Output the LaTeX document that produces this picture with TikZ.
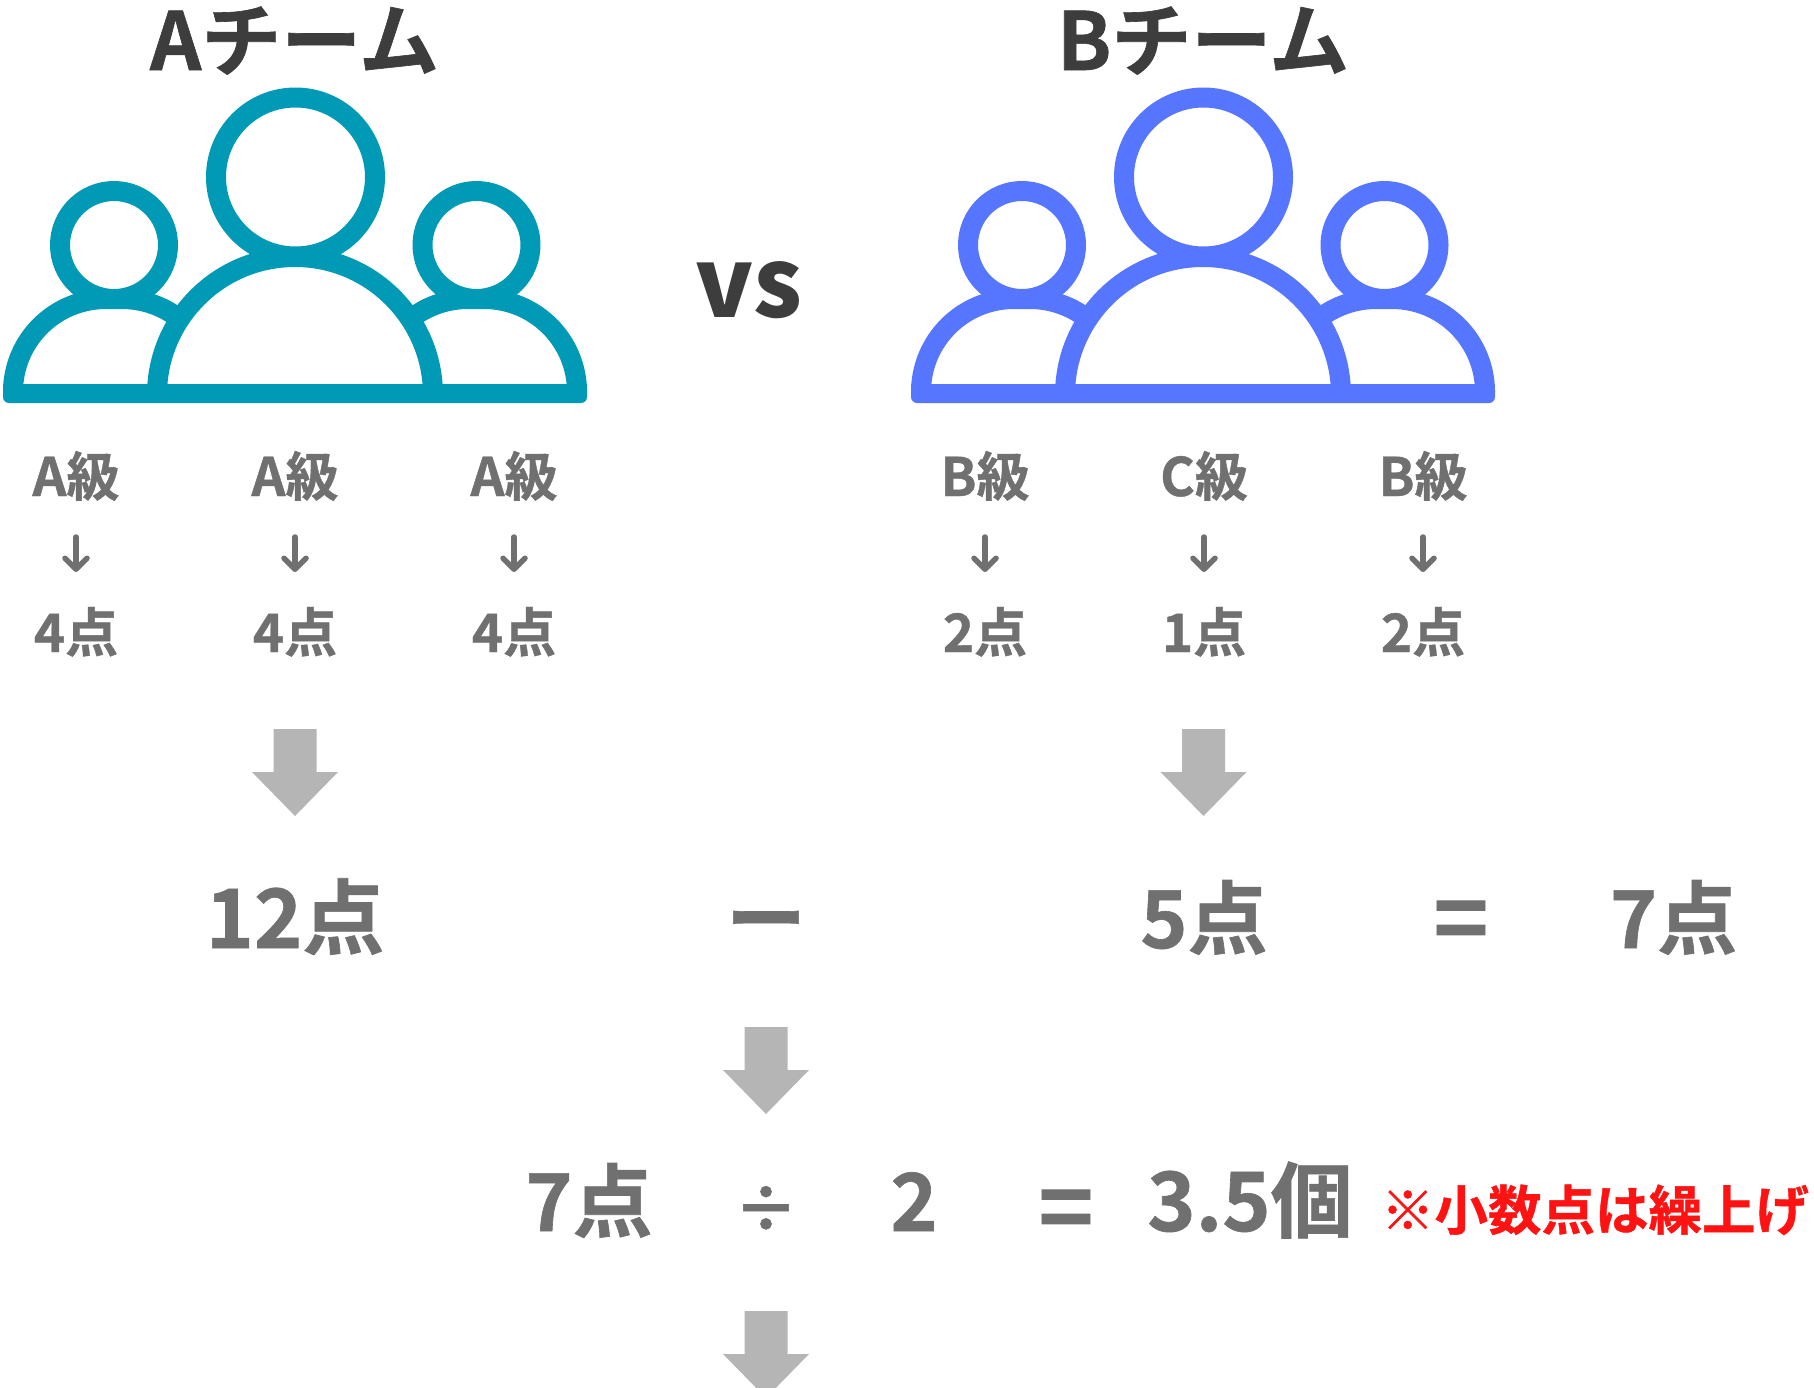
\documentclass[tikz,border=0pt]{standalone}
\usepackage{fontspec}
\setmainfont{Noto Sans CJK JP}[BoldFont=* Bold,BoldFeatures={FakeBold=0.8}]
\newfontfamily\heavyfont{Noto Sans CJK JP Black}
\usetikzlibrary{arrows.meta}
\definecolor{teamteal}{HTML}{019AB6}
\definecolor{teamblue}{HTML}{5676FF}
\definecolor{titleink}{HTML}{3D3D3D}
\definecolor{labelink}{HTML}{707070}
\definecolor{arrowgrey}{HTML}{B5B5B5}
\definecolor{noteink}{HTML}{FF1212}
\tikzset{
  txt/.style={inner sep=0pt,outer sep=0pt,anchor=base,text depth=0pt,font=\bfseries},
  titletxt/.style={txt,text=titleink,font=\fontsize{80}{80}\selectfont\bfseries},
  smalltxt/.style={txt,text=labelink,font=\fontsize{53}{53}\selectfont\bfseries},
  bigtxt/.style={txt,text=labelink,font=\fontsize{80}{80}\selectfont\bfseries},
  widetxt/.style={txt,text=labelink,font=\fontsize{82}{82}\selectfont\bfseries},
  signtxt/.style={txt,text=labelink,font=\fontsize{94}{94}\selectfont\bfseries},
  divtxt/.style={txt,text=labelink,font=\fontsize{64}{64}\selectfont\bfseries},
  notetxt/.style={txt,anchor=base west,text=noteink,font=\fontsize{53.5}{53.5}\selectfont\bfseries},
  thinarrow/.style={draw=labelink,line width=5.5pt,line cap=round,
     -{Straight Barb[length=11pt,width=22pt,line width=5.5pt,round]},
     shorten <=41pt},
  bigarrow/.style={fill=arrowgrey,draw=none}
}
\newcommand{\teamicon}[2]{%
  \begin{scope}[xshift=#2pt,draw=#1,line width=20pt,line join=round]
    % side bodies
    \draw (13,-392) arc[start angle=180,end angle=90,radius=93] -- (122,-299)
          arc[start angle=90,end angle=53,radius=93];
    \draw (577,-392) arc[start angle=0,end angle=90,radius=93] -- (468,-299)
          arc[start angle=90,end angle=127,radius=93];
    % central body
    \draw (157,-395) arc[start angle=180,end angle=0,radius=138];
    % heads
    \draw[fill=white] (295.5,-177) circle[radius=79.5];
    \draw[fill=white] (114,-245) circle[radius=54];
    \draw[fill=white] (476.5,-245) circle[radius=54];
    % base bar
    \fill[#1,rounded corners=6pt] (3,-384) -- (3,-403) -- (587,-403) -- (587,-384) [sharp corners] -- cycle;
    \fill[#1] (3,-384) rectangle (587,-395);
  \end{scope}}
\newcommand{\greyarrow}[2]{%
  \fill[bigarrow] (#1-21.5,-#2) -- (#1+21.5,-#2) -- (#1+21.5,-#2-43) -- (#1+43,-#2-43)
     -- (#1,-#2-87) -- (#1-43,-#2-43) -- (#1-21.5,-#2-43) -- cycle;}
\begin{document}
\begin{tikzpicture}[x=1pt,y=1pt]
\path[use as bounding box,clip] (0,0) rectangle (1814,-1387);
\node[titletxt] (titleA) at (294.5,-70) {Aチーム};
\node[titletxt] (titleB) at (1203,-70) {Bチーム};
\teamicon{teamteal}{0}
\teamicon{teamblue}{908}
\node[txt,text=titleink,font=\heavyfont\fontsize{96}{96}\selectfont] (vs) at (749,-317) {vs};
\node[smalltxt] (a1) at (76,-496) {A級};
\node[smalltxt] (a2) at (295,-496) {A級};
\node[smalltxt] (a3) at (514,-496) {A級};
\node[smalltxt] (p1) at (76,-652) {4点};
\node[smalltxt] (p2) at (295,-652) {4点};
\node[smalltxt] (p3) at (514,-652) {4点};
\node[smalltxt] (b1) at (985,-496) {B級};
\node[smalltxt] (b2) at (1204,-496) {C級};
\node[smalltxt] (b3) at (1423,-496) {B級};
\node[smalltxt] (q1) at (985,-652) {2点};
\node[smalltxt] (q2) at (1204,-652) {1点};
\node[smalltxt] (q3) at (1423,-652) {2点};
\foreach \u/\v in {a1/p1,a2/p2,a3/p3,b1/q1,b2/q2,b3/q3}
  \draw[thinarrow] (\u.south) -- ([yshift=80pt]\v.south);
\greyarrow{295}{729}
\greyarrow{1203.5}{729}
\greyarrow{766}{1027}
\greyarrow{766}{1311}
\node[widetxt] (r12) at (295,-948) {12点};
\node[bigtxt] (rminus) at (766,-948) {ー};
\node[bigtxt] (r5) at (1204,-948) {5点};
\node[signtxt] (req) at (1461,-953) {=};
\node[bigtxt] (r7) at (1673.5,-948) {7点};
\node[bigtxt] (s7) at (589,-1231) {7点};
\node[divtxt] (sdiv) at (766,-1232) {÷};
\node[bigtxt] (s2) at (914,-1231) {2};
\node[signtxt] (seq) at (1066,-1242) {=};
\node[widetxt] (s35) at (1250,-1231) {3.5個};
\node[notetxt] (note) at (1381,-1230) {※小数点は繰上げ};
\end{tikzpicture}
\end{document}
